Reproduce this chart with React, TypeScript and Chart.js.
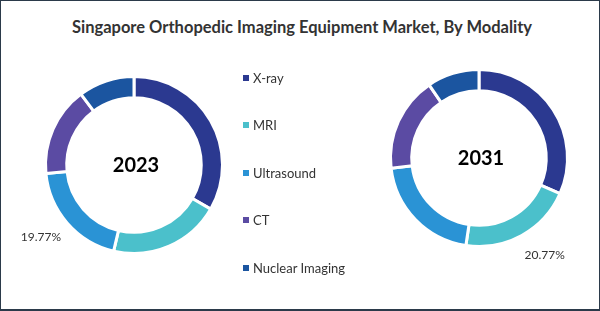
import React, { useEffect, useRef } from "react";
import { Chart, registerables } from "chart.js";

Chart.register(...registerables);

const title = "Singapore Orthopedic Imaging Equipment Market, By Modality";
const categories = ["X-ray", "MRI", "Ultrasound", "CT", "Nuclear Imaging"];
const colors = ["#2B3990", "#4BC0CB", "#2A93D5", "#5B4BA3", "#1B55A0"];
const values2023 = [33.3, 20.4, 19.77, 16.3, 10.23];
const values2031 = [31.6, 20.77, 20.8, 17.3, 9.53];
const years = ["2023", "2031"];
const labelIndex2023 = 2;
const labelIndex2031 = 1;

const FONT = "Lato, 'Open Sans', sans-serif";

const centerAndLabelPlugin = {
  id: "centerAndLabel",
  afterDraw(chart: any) {
    const opts = chart.options.plugins.centerAndLabel;
    const meta = chart.getDatasetMeta(0);
    const arcs = meta.data;
    if (!arcs.length) return;
    const ctx = chart.ctx;
    const a0 = arcs[0];
    ctx.save();
    ctx.fillStyle = "#000";
    ctx.font = `bold 20px ${FONT}`;
    ctx.textAlign = "center";
    ctx.textBaseline = "middle";
    ctx.fillText(opts.year, a0.x + 2, a0.y + 1);
    const arc = arcs[opts.labelIndex];
    const mid = (arc.startAngle + arc.endAngle) / 2 + opts.angleShift;
    const r = arc.outerRadius + opts.labelOffset;
    const x = arc.x + Math.cos(mid) * r;
    const y = arc.y + Math.sin(mid) * r;
    const v = chart.data.datasets[0].data[opts.labelIndex];
    ctx.fillStyle = "#333";
    ctx.font = `12px ${FONT}`;
    ctx.fillText(v.toFixed(2) + "%", x, y);
    ctx.restore();
  },
};

function Donut({ values, year, labelIndex, angleShift, left, top }: any) {
  const ref = useRef<HTMLCanvasElement>(null);
  useEffect(() => {
    const chart = new Chart(ref.current!, {
      type: "doughnut",
      data: {
        labels: categories,
        datasets: [
          {
            data: values,
            backgroundColor: colors,
            borderColor: "#ffffff",
            borderWidth: 3,
            hoverOffset: 0,
          },
        ],
      },
      options: {
        animation: false,
        responsive: false,
        maintainAspectRatio: false,
        cutout: "76%",
        layout: { padding: 30 },
        events: [],
        plugins: {
          legend: { display: false },
          tooltip: { enabled: false },
          centerAndLabel: { year, labelIndex, labelOffset: 29, angleShift },
        } as any,
      },
      plugins: [centerAndLabelPlugin],
    });
    return () => chart.destroy();
  }, []);
  return (
    <canvas
      ref={ref}
      width={240}
      height={240}
      style={{ position: "absolute", left, top, width: 240, height: 240 }}
    />
  );
}

export default function App() {
  useEffect(() => {
    document.body.style.margin = "0";
  }, []);
  const legendTops = [77, 124, 172, 219, 267];
  return (
    <div
      style={{
        position: "relative",
        width: 600,
        height: 311,
        boxSizing: "border-box",
        border: "1px solid #2b3a4a",
        borderBottomWidth: 2,
        background: "#fff",
        overflow: "hidden",
        fontFamily: FONT,
      }}
    >
      <div
        style={{
          position: "absolute",
          left: 4,
          right: 0,
          top: 15,
          textAlign: "center",
          fontWeight: "bold",
          fontSize: 16.5,
          lineHeight: "22px",
          color: "#333",
          whiteSpace: "nowrap",
        }}
      >
        {title}
      </div>
      <Donut values={values2023} year={years[0]} labelIndex={labelIndex2023} angleShift={0.06} left={13} top={44} />
      <Donut values={values2031} year={years[1]} labelIndex={labelIndex2031} angleShift={-0.09} left={358} top={37} />
      {categories.map((c, i) => (
        <div
          key={c}
          style={{
            position: "absolute",
            left: 242,
            top: legendTops[i] - 8,
            height: 16,
            display: "flex",
            alignItems: "center",
            fontSize: 13,
            color: "#333",
            whiteSpace: "nowrap",
            zIndex: 2,
          }}
        >
          <span
            style={{
              display: "inline-block",
              width: 6,
              height: 6,
              background: colors[i],
              marginRight: 4,
            }}
          />
          {c}
        </div>
      ))}
    </div>
  );
}
